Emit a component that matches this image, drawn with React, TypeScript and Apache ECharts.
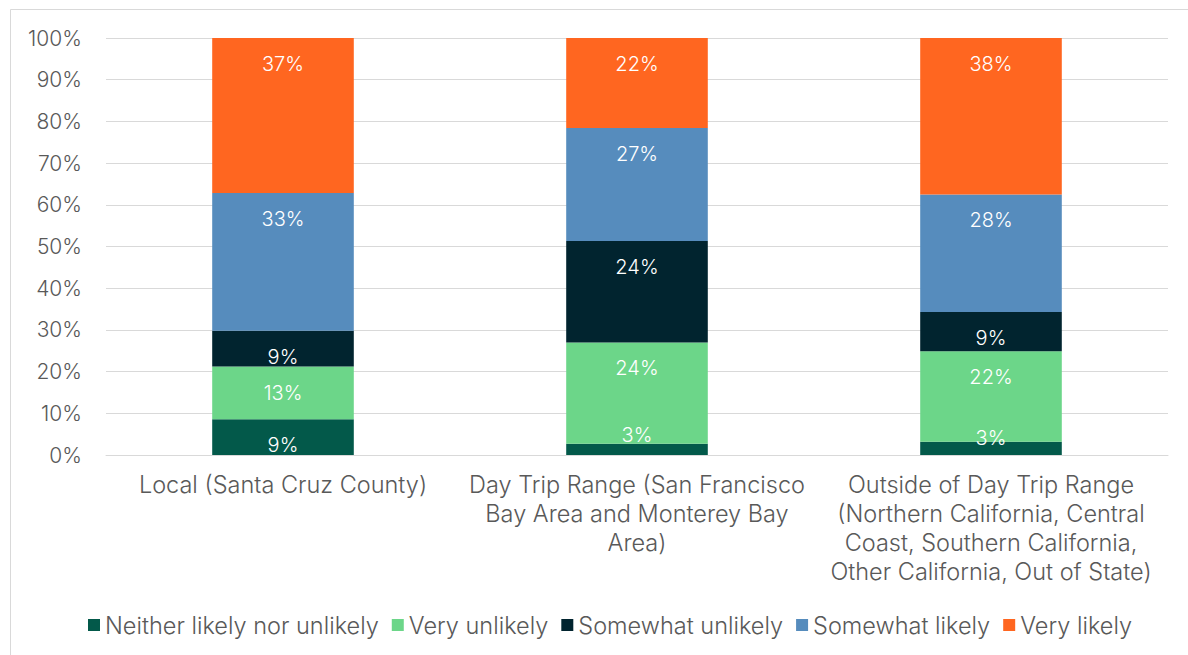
import React, { useEffect, useRef } from "react";
import * as echarts from "echarts";

const categories = [
  "Local (Santa Cruz County)",
  "Day Trip Range (San Francisco\nBay Area and Monterey Bay\nArea)",
  "Outside of Day Trip Range\n(Northern California, Central\nCoast, Southern California,\nOther California, Out of State)",
];
const seriesNames = [
  "Neither likely nor unlikely",
  "Very unlikely",
  "Somewhat unlikely",
  "Somewhat likely",
  "Very likely",
];
const neitherLikely = [8.6, 2.7, 3.2];
const veryUnlikely = [12.6, 24.3, 21.7];
const somewhatUnlikely = [8.6, 24.3, 9.4];
const somewhatLikely = [33.0, 27.1, 28.2];
const veryLikely = [37.2, 21.6, 37.5];
const yTicks = [0, 10, 20, 30, 40, 50, 60, 70, 80, 90, 100];

const colors = ["#03594A", "#6CD689", "#01242F", "#568CBD", "#FF6620"];
const FONT = "Inter";

export default function App() {
  const ref = useRef<HTMLDivElement>(null);
  useEffect(() => {
    if (!ref.current) return;
    const chart = echarts.init(ref.current, undefined, { renderer: "svg" });
    const all = [neitherLikely, veryUnlikely, somewhatUnlikely, somewhatLikely, veryLikely];
    const series = all.map((vals, i) => ({
      name: seriesNames[i],
      type: "bar",
      stack: "total",
      barWidth: "40%",
      itemStyle: { color: colors[i] },
      data: vals.map((v, j) =>
        v < 5
          ? { value: v, label: { position: "insideBottom", distance: j === 1 ? 10 : 7 } }
          : { value: v }
      ),
      label: {
        show: true,
        position: "insideTop",
        distance: 16,
        color: "#ffffff",
        fontSize: 20,
        fontWeight: 300,
        fontFamily: FONT,
        formatter: (p: any) => Math.round(p.value) + "%",
      },
    }));
    chart.setOption({
      animation: false,
      textStyle: { fontFamily: FONT },
      graphic: [
        {
          type: "rect",
          shape: { x: 10.5, y: 9.5, width: 1300, height: 700 },
          style: { fill: "none", stroke: "#d9d9d9", lineWidth: 1 },
          silent: true,
        },
      ],
      grid: { left: 106, right: 20, top: 38, bottom: 200, containLabel: false },
      legend: {
        bottom: 13,
        left: 83,
        itemWidth: 12,
        itemHeight: 12,
        itemGap: 13,
        icon: "rect",
        textStyle: { color: "#595959", fontSize: 23.5, fontWeight: 300, fontFamily: FONT },
        data: seriesNames,
      },
      xAxis: {
        type: "category",
        data: categories,
        axisLine: { show: true, lineStyle: { color: "#d9d9d9" } },
        axisTick: { show: false },
        axisLabel: {
          color: "#595959",
          fontSize: 23.5,
          fontWeight: 300,
          lineHeight: 29,
          margin: 15,
          fontFamily: FONT,
          interval: 0,
        },
      },
      yAxis: {
        type: "value",
        min: yTicks[0],
        max: yTicks[yTicks.length - 1],
        interval: 10,
        axisLine: { show: false },
        axisTick: { show: false },
        splitLine: { lineStyle: { color: "#d9d9d9", width: 1 } },
        axisLabel: {
          color: "#595959",
          fontSize: 21,
          fontWeight: 300,
          margin: 24,
          fontFamily: FONT,
          formatter: "{value}%",
        },
      },
      series,
    });
    return () => chart.dispose();
  }, []);
  return (
    <div
      ref={ref}
      style={{ position: "fixed", left: 0, top: 0, width: 1188, height: 655, background: "#fff" }}
    />
  );
}
